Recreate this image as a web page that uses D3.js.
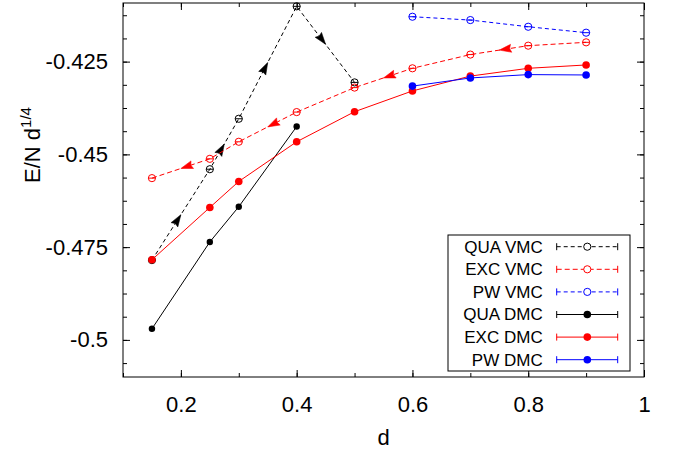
<!DOCTYPE html>
<html>
<head>
<meta charset="utf-8">
<script src="https://cdn.jsdelivr.net/npm/d3@7"></script>
<style>
body { margin: 0; background: #fff; }
svg { font-family: "Liberation Sans", Arial, Helvetica, sans-serif; }
</style>
</head>
<body>
<svg width="683" height="450"></svg>
<script>
// values
var dQuaVmc = [0.15, 0.25, 0.3, 0.4, 0.5];
var quaVmc = [-0.4785, -0.4540, -0.4404, -0.4101, -0.4306];
var dExc = [0.15, 0.25, 0.3, 0.4, 0.5, 0.6, 0.7, 0.8, 0.9];
var excVmc = [-0.4564, -0.4512, -0.4466, -0.4386, -0.4320, -0.4268, -0.4231, -0.4207, -0.4198];
var dPw = [0.6, 0.7, 0.8, 0.9];
var pwVmc = [-0.4129, -0.4138, -0.4156, -0.4172];
var dQuaDmc = [0.15, 0.25, 0.3, 0.4];
var quaDmc = [-0.4970, -0.4736, -0.4641, -0.4425];
var excDmc = [-0.4784, -0.4643, -0.4573, -0.4466, -0.4385, -0.4329, -0.4289, -0.4268, -0.4259];
var pwDmc = [-0.4316, -0.4294, -0.4285, -0.4286];

var seriesNames = ["QUA VMC", "EXC VMC", "PW VMC", "QUA DMC", "EXC DMC", "PW DMC"];

var xTicks = [0.2, 0.4, 0.6, 0.8, 1];
var xTickLabels = ["0.2", "0.4", "0.6", "0.8", "1"];
var yTicks = [-0.5, -0.475, -0.45, -0.425];
var yTickLabels = ["-0.5", "-0.475", "-0.45", "-0.425"];

// segments (start index) carrying an arrow head, +1 = towards larger d, -1 = smaller d
var quaArrowSegs = [0, 1, 2, 3];
var excArrowSegs = [0, 2, 4, 6];

var zip = function (xs, ys) {
    return xs.map(function (x, i) { return { d: x, e: ys[i] }; });
};

var series = [
    { name: seriesNames[0], data: zip(dQuaVmc, quaVmc), color: "#000", dash: "4,3", filled: false, arrows: quaArrowSegs, dir: 1 },
    { name: seriesNames[1], data: zip(dExc, excVmc), color: "#f00", dash: "5,3", filled: false, arrows: excArrowSegs, dir: -1 },
    { name: seriesNames[2], data: zip(dPw, pwVmc), color: "#00f", dash: "4,3", filled: false, arrows: [], dir: 1 },
    { name: seriesNames[3], data: zip(dQuaDmc, quaDmc), color: "#000", dash: null, filled: true, arrows: [], dir: 1 },
    { name: seriesNames[4], data: zip(dExc, excDmc), color: "#f00", dash: null, filled: true, arrows: [], dir: 1 },
    { name: seriesNames[5], data: zip(dPw, pwDmc), color: "#00f", dash: null, filled: true, arrows: [], dir: 1 }
];

var svg = d3.select("svg");
var margin = { top: 3, right: 39, bottom: 73, left: 123 };
var width = +svg.attr("width") - margin.left - margin.right;
var height = +svg.attr("height") - margin.top - margin.bottom;
var g = svg.append("g").attr("transform", "translate(" + margin.left + "," + margin.top + ")");

var x = d3.scaleLinear().domain([0.1, 1.0]).range([0, width]);
var y = d3.scaleLinear().domain([-0.51, -0.4092]).range([height, 0]);

// minor ticks
var xMinor = d3.range(0.1, 1.001, 0.1);
var yMinor = d3.range(-0.50625, -0.409, 0.00625);

function tickAxis(axis, scale, vals, size) {
    return axis(scale).tickValues(vals).tickSizeInner(-size).tickSizeOuter(0).tickFormat("");
}

g.append("g").attr("transform", "translate(0," + height + ")").call(tickAxis(d3.axisBottom, x, xMinor, 4));
g.append("g").call(tickAxis(d3.axisTop, x, xMinor, 4));
g.append("g").call(tickAxis(d3.axisLeft, y, yMinor, 4));
g.append("g").attr("transform", "translate(" + width + ",0)").call(tickAxis(d3.axisRight, y, yMinor, 4));
g.append("g").call(tickAxis(d3.axisTop, x, xTicks, 7));
g.append("g").attr("transform", "translate(" + width + ",0)").call(tickAxis(d3.axisRight, y, yTicks, 7));

g.append("g").attr("class", "x axis").attr("transform", "translate(0," + height + ")")
    .call(d3.axisBottom(x).tickValues(xTicks).tickFormat(function (d, i) { return xTickLabels[i]; })
        .tickSizeInner(-7).tickSizeOuter(0).tickPadding(19));
g.append("g").attr("class", "y axis")
    .call(d3.axisLeft(y).tickValues(yTicks).tickFormat(function (d, i) { return yTickLabels[i]; })
        .tickSizeInner(-7).tickSizeOuter(0).tickPadding(15));

g.selectAll(".domain").remove();
g.selectAll(".tick line").attr("stroke", "#000");
g.selectAll(".axis text").attr("font-size", 22).attr("font-family", null).attr("fill", "#000");

g.append("rect").attr("width", width).attr("height", height)
    .attr("fill", "none").attr("stroke", "#000").attr("stroke-width", 1);

// axis titles
svg.append("text").attr("x", margin.left + width / 2).attr("y", 445)
    .attr("text-anchor", "middle").attr("font-size", 22).text("d");

var yl = svg.append("text").attr("transform", "translate(40,145) rotate(-90)")
    .attr("text-anchor", "middle").attr("font-size", 22);
yl.append("tspan").text("E/N d");
yl.append("tspan").attr("font-size", 15).attr("dy", -9).text("1/4");

var line = d3.line().x(function (d) { return x(d.d); }).y(function (d) { return y(d.e); });

var plot = g.append("g");

series.forEach(function (s) {
    var sg = plot.append("g");
    sg.append("path").datum(s.data).attr("fill", "none").attr("stroke", s.color)
        .attr("stroke-width", 1).attr("stroke-dasharray", s.dash).attr("d", line);

    s.arrows.forEach(function (k) {
        var a = s.data[k], b = s.data[k + 1];
        var x0 = x(a.d), y0 = y(a.e), x1 = x(b.d), y1 = y(b.e);
        var ang = Math.atan2(y1 - y0, x1 - x0) + (s.dir < 0 ? Math.PI : 0);
        var mx = (x0 + x1) / 2, my = (y0 + y1) / 2;
        sg.append("path").attr("d", "M0,0L-12,-4L-10.5,0L-12,4Z")
            .attr("fill", s.color).attr("stroke", s.color).attr("stroke-width", 0.5)
            .attr("transform", "translate(" + mx + "," + my + ") rotate(" + ang * 180 / Math.PI + ")");
    });

    var pts = sg.selectAll(".pt").data(s.data).enter().append("g").attr("class", "pt")
        .attr("transform", function (d) { return "translate(" + x(d.d) + "," + y(d.e) + ")"; });
    if (s.filled) {
        pts.append("circle").attr("r", s.color === "#000" ? 3.2 : 3.8).attr("fill", s.color);
    } else {
        pts.append("circle").attr("r", 3.6).attr("fill", "none").attr("stroke", s.color).attr("stroke-width", 1);
        pts.append("line").attr("x1", -3.6).attr("x2", 3.6).attr("stroke", s.color).attr("stroke-width", 1);
    }
});

// legend
var lg = svg.append("g").attr("transform", "translate(448,235)");
lg.append("rect").attr("width", 182).attr("height", 136).attr("fill", "#fff").attr("stroke", "#000");
var rows = lg.selectAll(".row").data(series).enter().append("g").attr("class", "row")
    .attr("transform", function (d, i) { return "translate(0," + (11.7 + i * 22.6) + ")"; });
rows.append("text").attr("x", 94.7).attr("dy", "0.35em").attr("text-anchor", "end")
    .attr("font-size", 17).text(function (d) { return d.name; });
rows.append("line").attr("x1", 108.7).attr("x2", 169.7)
    .attr("stroke", function (d) { return d.color; })
    .attr("stroke-dasharray", function (d) { return d.dash; });
rows.each(function (s) {
    var r = d3.select(this);
    [108.7, 169.7].forEach(function (cx) {
        r.append("line").attr("x1", cx).attr("x2", cx).attr("y1", -3.5).attr("y2", 3.5).attr("stroke", s.color);
    });
    if (s.filled) {
        r.append("circle").attr("cx", 139.3).attr("r", 3.8).attr("fill", s.color);
    } else {
        r.append("circle").attr("cx", 139.3).attr("r", 3.6).attr("fill", "#fff").attr("stroke", s.color);
    }
});
</script>
</body>
</html>
